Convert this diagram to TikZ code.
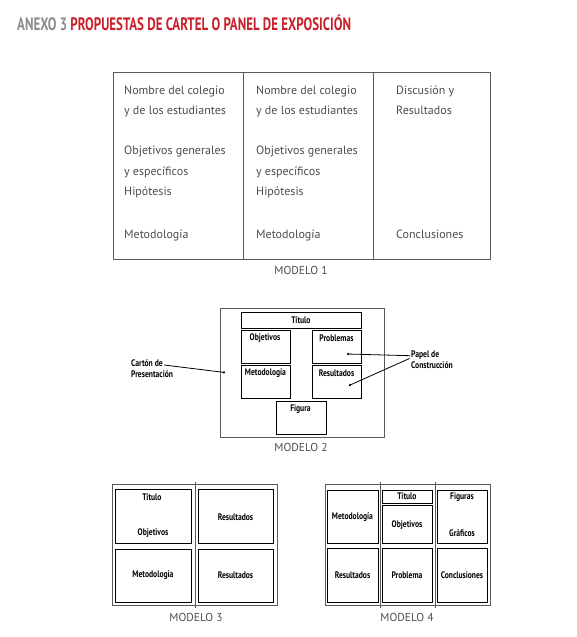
\documentclass[tikz,border=0pt]{standalone}
\usepackage{fontspec}
\setmainfont{PT Sans}
\newfontfamily\mfont{PT Sans}
\newfontfamily\cfont[FakeStretch=0.8]{PT Sans}
\newfontfamily\tfont[FakeStretch=0.72]{PT Sans}
\usetikzlibrary{arrows.meta}
\definecolor{txtgray}{HTML}{4D4D4D}
\definecolor{boxgray}{HTML}{5A5A5A}
\definecolor{anexgray}{HTML}{8C8C8C}
\definecolor{titred}{HTML}{C8202A}
\begin{document}
\begin{tikzpicture}[x=1pt,y=-1pt,
  m1text/.style={font=\mfont\fontsize{12}{13}\selectfont, text=txtgray, anchor=base west, inner sep=0pt},
  lab/.style={font=\cfont\bfseries\fontsize{9.5}{11}\selectfont, text=black, inner sep=0pt},
  modlab/.style={font=\mfont\fontsize{11.5}{13}\selectfont, text=txtgray, inner sep=0pt, anchor=base},
  obox/.style={draw=boxgray, line width=0.8pt, inner sep=0pt, anchor=north west},
  ibox/.style={draw=black, line width=1.1pt, inner sep=0pt, anchor=north west},
  divline/.style={draw=boxgray, line width=0.8pt},
  pointer/.style={draw=black, line width=0.8pt, -{Circle[length=2.2pt]}}
]
\useasboundingbox (0,0) rectangle (576,637);

% Title
\node[anchor=base west, inner sep=0pt, font=\tfont\bfseries\fontsize{18}{20}\selectfont] (title) at (17,30)
  {\textcolor{anexgray}{ANEXO 3} \textcolor{titred}{PROPUESTAS DE CARTEL O PANEL DE EXPOSICIÓN}};

% ---------------- MODELO 1
\node[obox, minimum width=377, minimum height=187] (m1) at (113,72) {};
\coordinate (m1d1t) at (243,72); \coordinate (m1d1b) at (243,259);
\coordinate (m1d2t) at (373,72); \coordinate (m1d2b) at (373,259);
\draw[divline] (m1d1t) -- (m1d1b);
\draw[divline] (m1d2t) -- (m1d2b);
\node[m1text] (a1) at (124,94) {Nombre del colegio};
\node[m1text] (a2) at (124,114.5) {y de los estudiantes};
\node[m1text] (a3) at (124,154.5) {Objetivos generales};
\node[m1text] (a4) at (124,175) {y específicos};
\node[m1text] (a5) at (124,195.5) {Hipótesis};
\node[m1text] (a6) at (124,238) {Metodología};
\node[m1text] (b1) at (256,94) {Nombre del colegio};
\node[m1text] (b2) at (256,114.5) {y de los estudiantes};
\node[m1text] (b3) at (256,154.5) {Objetivos generales};
\node[m1text] (b4) at (256,175) {y específicos};
\node[m1text] (b5) at (256,195.5) {Hipótesis};
\node[m1text] (b6) at (256,238) {Metodología};
\node[m1text] (c1) at (396,94) {Discusión y};
\node[m1text] (c2) at (396,114.5) {Resultados};
\node[m1text] (c3) at (396,238) {Conclusiones};
\node[modlab] (ml1) at (301,274.3) {MODELO 1};

% ---------------- MODELO 2
\node[obox, minimum width=164, minimum height=129] (m2) at (219.5,308) {};
\node[ibox, minimum width=120, minimum height=15.5] (tit2) at (241,312) {};
\node[ibox, minimum width=49, minimum height=33] (obj2) at (240.5,330) {};
\node[ibox, minimum width=49, minimum height=33] (pro2) at (312,330) {};
\node[ibox, minimum width=49, minimum height=33] (met2) at (241,365) {};
\node[ibox, minimum width=49, minimum height=33] (res2) at (312,365) {};
\node[ibox, minimum width=49.5, minimum height=32.5] (fig2) at (276,401) {};
\node[lab] (lt2) at (301,320) {Título};
\node[lab] (lo2) at (265,338) {Objetivos};
\node[lab] (lp2) at (336.5,338) {Problemas};
\node[lab] (lm2) at (265.5,373) {Metodología};
\node[lab] (lr2) at (336.5,373) {Resultados};
\node[lab] (lf2) at (300.5,409) {Figura};
\node[lab, align=left, anchor=north west] (carton) at (131,359.5) {Cartón de\\Presentación};
\node[lab, align=left, anchor=north west] (papel) at (411,350.5) {Papel de\\Construcción};
\coordinate (dc) at (225,372.5);
\coordinate (dp) at (347,354);
\coordinate (dr) at (349,385.5);
\coordinate (cs) at (164,365);
\coordinate (ps1) at (410,355.7);
\coordinate (ps2) at (409.5,358.5);
\draw[pointer] (cs) -- (dc);
\draw[pointer] (ps1) -- (dp);
\draw[pointer] (ps2) -- (dr);
\node[modlab] (ml2) at (301,451.5) {MODELO 2};

% ---------------- MODELO 3
\node[obox, minimum width=165, minimum height=121] (m3) at (112,484) {};
\coordinate (m3dt) at (195,482); \coordinate (m3db) at (195,608);
\draw[divline] (m3dt) -- (m3db);
\node[ibox, minimum width=76, minimum height=54] (tl3) at (115,489) {};
\node[ibox, minimum width=75, minimum height=54] (tr3) at (198,489) {};
\node[ibox, minimum width=76, minimum height=53] (bl3) at (115,549) {};
\node[ibox, minimum width=75, minimum height=53] (br3) at (198,549) {};
\node[lab] (lt3) at (152,497) {Título};
\node[lab] (lo3) at (153,533.5) {Objetivos};
\node[lab] (lr3a) at (235.5,517) {Resultados};
\node[lab] (lm3) at (153,575.5) {Metodología};
\node[lab] (lr3b) at (235.5,575.5) {Resultados};
\node[modlab] (ml3) at (196,621.5) {MODELO 3};

% ---------------- MODELO 4
\node[obox, minimum width=165, minimum height=121] (m4) at (325,484) {};
\coordinate (m4d1t) at (380.5,482); \coordinate (m4d1b) at (380.5,608);
\coordinate (m4d2t) at (435.3,482); \coordinate (m4d2b) at (435.3,608);
\draw[divline] (m4d1t) -- (m4d1b);
\draw[divline] (m4d2t) -- (m4d2b);
\node[ibox, minimum width=50.5, minimum height=53] (c1t) at (327,490) {};
\node[ibox, minimum width=50.5, minimum height=54] (c1b) at (327,548) {};
\node[ibox, minimum width=50, minimum height=13] (c2t) at (382,490) {};
\node[ibox, minimum width=50, minimum height=38] (c2m) at (382,505) {};
\node[ibox, minimum width=50, minimum height=54] (c2b) at (382,548) {};
\node[ibox, minimum width=50, minimum height=53] (c3t) at (437,490) {};
\node[ibox, minimum width=50, minimum height=54] (c3b) at (437,548) {};
\node[lab] (l4m) at (352.5,517) {Metodología};
\node[lab] (l4r) at (352.5,575.5) {Resultados};
\node[lab] (l4t) at (407,496.5) {Título};
\node[lab] (l4o) at (407,525) {Objetivos};
\node[lab] (l4p) at (407,575.5) {Problema};
\node[lab] (l4f) at (462,497.5) {Figuras};
\node[lab] (l4g) at (462,533.5) {Gráficos};
\node[lab] (l4c) at (462,575.5) {Conclusiones};
\node[modlab] (ml4) at (407,621.5) {MODELO 4};
\end{tikzpicture}
\end{document}
